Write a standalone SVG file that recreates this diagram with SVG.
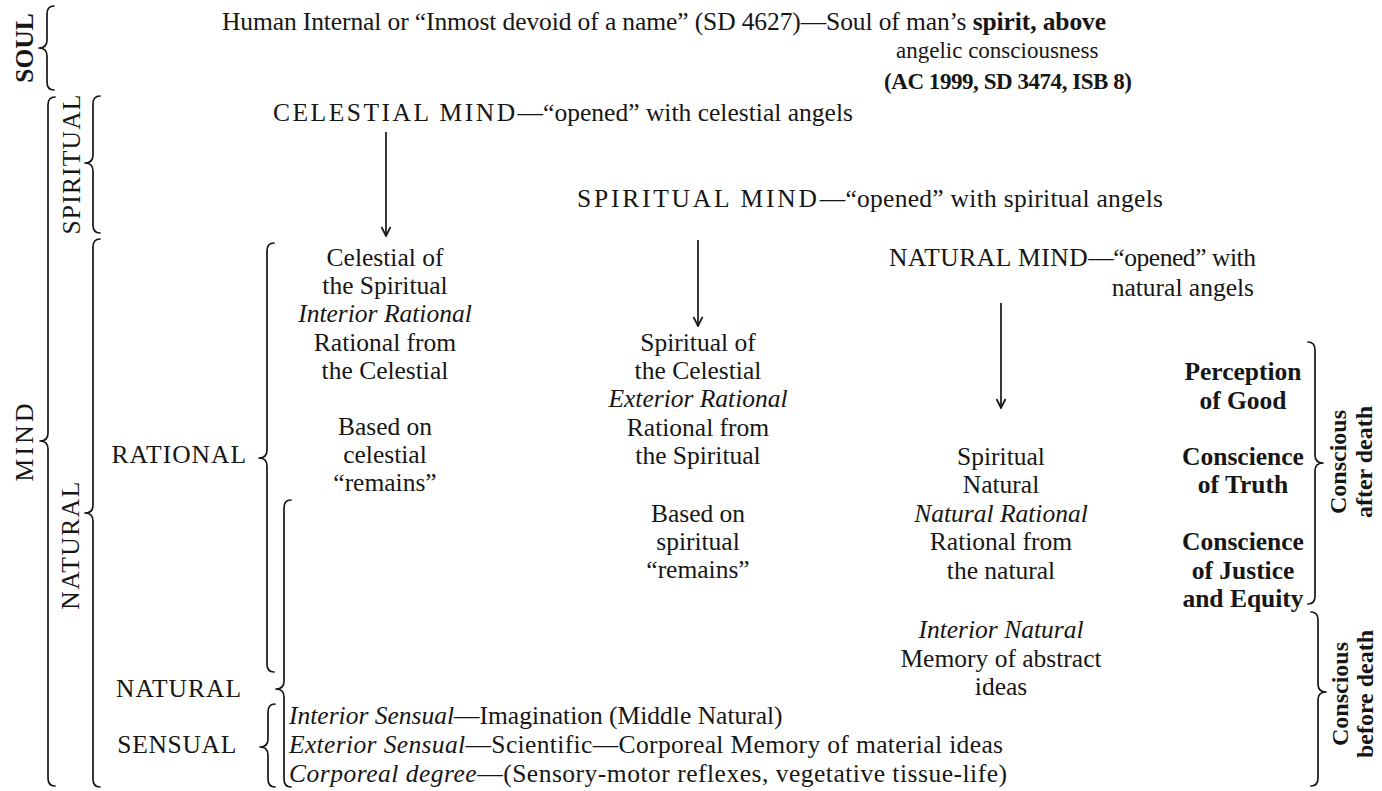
<svg xmlns="http://www.w3.org/2000/svg" width="1382" height="791" viewBox="0 0 1382 791">
<style>
text { font-family: "Liberation Serif", "Times New Roman", serif; font-size: 25.5px; fill: #161616; }
.i { font-style: italic; }
.b { font-weight: bold; }
.c { text-anchor: middle; }
.e { text-anchor: end; }
.caps { letter-spacing: 2.5px; }
.sm { font-size: 23px; }
.vl { font-size: 24px; font-weight: bold; text-anchor: middle; }
.br { fill: none; stroke: #161616; stroke-width: 1.7; stroke-linecap: round; stroke-linejoin: round; }
.ar { fill: none; stroke: #161616; stroke-width: 1.7; marker-end: url(#ah); }
</style>
<defs>
<marker id="ah" viewBox="-11 -6 12 12" refX="0" refY="0" markerWidth="12" markerHeight="12" markerUnits="userSpaceOnUse" orient="auto">
<path d="M-9,-4.5 L0,0 L-9,4.5" fill="none" stroke="#161616" stroke-width="1.7" stroke-linejoin="miter"/>
</marker>
</defs>
<rect width="1382" height="791" fill="#ffffff"/>

<g id="side-labels">
<text class="b c" transform="translate(33,48) rotate(-90)">SOUL</text>
<text class="c" style="letter-spacing:1.2px" transform="translate(80,164) rotate(-90)">SPIRITUAL</text>
<text class="c" style="letter-spacing:3.3px" transform="translate(33,441) rotate(-90)">MIND</text>
<text class="c" style="letter-spacing:1.5px" transform="translate(79,545) rotate(-90)">NATURAL</text>
<text class="e" style="letter-spacing:1px" x="247" y="463">RATIONAL</text>
<text class="e" style="letter-spacing:1px" x="242" y="697">NATURAL</text>
<text class="e" style="letter-spacing:0.7px" x="237" y="753">SENSUAL</text>
<text class="vl" transform="translate(1346,462) rotate(-90)">Conscious</text>
<text class="vl" transform="translate(1372,462) rotate(-90)">after death</text>
<text class="vl" transform="translate(1348,694) rotate(-90)">Conscious</text>
<text class="vl" transform="translate(1373,694) rotate(-90)">before death</text>
</g>

<g id="braces">
<path class="br" d="M54,6 Q47,6 47,14 L47,40 Q47,48 39,48 Q47,48 47,56 L47,82 Q47,90 54,90"/>
<path class="br" d="M55,97 Q48,97 48,105 L48,433 Q48,441 40,441 Q48,441 48,449 L48,778 Q48,786 55,786"/>
<path class="br" d="M100,96 Q93,96 93,104 L93,155 Q93,163 85,163 Q93,163 93,171 L93,225 Q93,233 100,233"/>
<path class="br" d="M100,239 Q93,239 93,247 L93,505 Q93,513 85,513 Q93,513 93,521 L93,779 Q93,787 100,787"/>
<path class="br" d="M274,243 Q267,243 267,251 L267,450 Q267,458 259,458 Q267,458 267,466 L267,664 Q267,672 274,672"/>
<path class="br" d="M291,500 Q284,500 284,508 L284,681 Q284,689 276,689 Q284,689 284,697 L284,779 Q284,787 291,787"/>
<path class="br" d="M275,704 Q268,704 268,712 L268,739 Q268,747 260,747 Q268,747 268,755 L268,779 Q268,787 275,787"/>
<path class="br" d="M1308,342 Q1315,342 1315,350 L1315,455 Q1315,463 1323,463 Q1315,463 1315,471 L1315,596 Q1315,604 1308,604"/>
<path class="br" d="M1311,612 Q1318,612 1318,620 L1318,684 Q1318,692 1326,692 Q1318,692 1318,700 L1318,778 Q1318,786 1311,786"/>
</g>

<g id="soul">
<text x="222" y="30" textLength="884">Human Internal or “Inmost devoid of a name” (SD 4627)—Soul of man’s <tspan class="b">spirit, above</tspan></text>
<text class="sm" x="896" y="58">angelic consciousness</text>
<text class="sm b" x="884" y="89" textLength="248">(AC 1999, SD 3474, ISB 8)</text>
</g>

<g id="celestial-mind">
<text x="273" y="121" textLength="580"><tspan class="caps">CELESTIAL MIND</tspan>—“opened” with celestial angels</text>
</g>
<g id="spiritual-mind">
<text x="577" y="207" textLength="586"><tspan class="caps">SPIRITUAL MIND</tspan>—“opened” with spiritual angels</text>
</g>
<g id="natural-mind">
<text x="889" y="266" textLength="367"><tspan style="letter-spacing:1px">NATURAL MIND</tspan>—“opened” with</text>
<text class="e" x="1254" y="296">natural angels</text>
</g>

<g id="connectors">
<line class="ar" x1="386" y1="132" x2="386" y2="236"/>
<line class="ar" x1="698" y1="240" x2="698" y2="326"/>
<line class="ar" x1="1001" y1="303" x2="1001" y2="408"/>
</g>

<g id="celestial-rational">
<text class="c" x="385" y="266">Celestial of</text>
<text class="c" x="385" y="294">the Spiritual</text>
<text class="c i" x="385" y="322">Interior Rational</text>
<text class="c" x="385" y="351">Rational from</text>
<text class="c" x="385" y="379">the Celestial</text>
<text class="c" x="385" y="435">Based on</text>
<text class="c" x="385" y="463">celestial</text>
<text class="c" x="385" y="491">“remains”</text>
</g>

<g id="spiritual-rational">
<text class="c" x="698" y="351">Spiritual of</text>
<text class="c" x="698" y="379">the Celestial</text>
<text class="c i" x="698" y="407">Exterior Rational</text>
<text class="c" x="698" y="436">Rational from</text>
<text class="c" x="698" y="464">the Spiritual</text>
<text class="c" x="698" y="522">Based on</text>
<text class="c" x="698" y="550">spiritual</text>
<text class="c" x="698" y="578">“remains”</text>
</g>

<g id="natural-rational">
<text class="c" x="1001" y="465">Spiritual</text>
<text class="c" x="1001" y="493">Natural</text>
<text class="c i" x="1001" y="522">Natural Rational</text>
<text class="c" x="1001" y="550">Rational from</text>
<text class="c" x="1001" y="579">the natural</text>
<text class="c i" x="1001" y="638">Interior Natural</text>
<text class="c" x="1001" y="667">Memory of abstract</text>
<text class="c" x="1001" y="695">ideas</text>
</g>

<g id="conscience">
<text class="c b" x="1243" y="380">Perception</text>
<text class="c b" x="1243" y="409">of Good</text>
<text class="c b" x="1243" y="465">Conscience</text>
<text class="c b" x="1243" y="493">of Truth</text>
<text class="c b" x="1243" y="550">Conscience</text>
<text class="c b" x="1243" y="579">of Justice</text>
<text class="c b" x="1243" y="607">and Equity</text>
</g>

<g id="sensual">
<text x="289" y="724"><tspan class="i">Interior Sensual</tspan>—Imagination (Middle Natural)</text>
<text x="289" y="753" textLength="714"><tspan class="i">Exterior Sensual</tspan>—Scientific—Corporeal Memory of material ideas</text>
<text x="289" y="782" textLength="718"><tspan class="i">Corporeal degree</tspan>—(Sensory-motor reflexes, vegetative tissue-life)</text>
</g>
</svg>
